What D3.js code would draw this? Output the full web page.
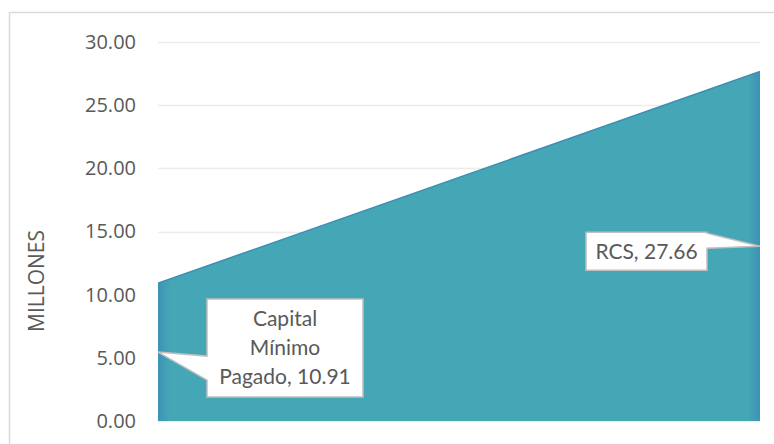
<!DOCTYPE html>
<meta charset="utf-8">
<style>
body { margin: 0; background: #fff; }
.axis text { font-family: "Open Sans", sans-serif; font-size: 20px; fill: #595959; }
.title { font-family: "Open Sans", sans-serif; font-size: 21px; fill: #595959; }
.callout text { font-family: Lato, sans-serif; font-size: 21px; fill: #595959; }
</style>
<svg width="774" height="444"></svg>
<script src="https://d3js.org/d3.v7.min.js"></script>
<script>
var categories = ["Capital Mínimo Pagado", "RCS"];
var values = [10.91, 27.66];
var yTicks = [0, 5, 10, 15, 20, 25, 30];

var svg = d3.select("svg");

// chart frame
svg.append("rect")
    .attr("x", 9.5).attr("y", 12.5)
    .attr("width", 775).attr("height", 440)
    .attr("fill", "none").attr("stroke", "#d9d9d9").attr("stroke-width", 1.5);

var x = d3.scalePoint().domain(categories).range([158, 760]);
var y = d3.scaleLinear().domain([0, 30]).range([421, 42]);

// gridlines
svg.append("g").selectAll("line")
    .data(yTicks)
  .enter().append("line")
    .attr("x1", 158).attr("x2", 760)
    .attr("y1", function(d) { return Math.round(y(d)) + 0.5; })
    .attr("y2", function(d) { return Math.round(y(d)) + 0.5; })
    .attr("stroke", "#ececec").attr("stroke-width", 1.5);

// y axis labels
svg.append("g")
    .attr("class", "axis")
    .attr("transform", "translate(158,0)")
    .call(d3.axisLeft(y).tickValues(yTicks).tickFormat(d3.format(".2f")).tickSize(0).tickPadding(22))
    .call(function(g) { g.select(".domain").remove(); });

svg.append("text")
    .attr("class", "title")
    .attr("transform", "translate(37,281) rotate(-90)")
    .attr("text-anchor", "middle")
    .attr("dy", "0.35em")
    .text("MILLONES");

// area fill
var defs = svg.append("defs");
var grad = defs.append("linearGradient").attr("id", "fillGrad");
grad.append("stop").attr("offset", "0%").attr("stop-color", "#3d92b6");
grad.append("stop").attr("offset", "2%").attr("stop-color", "#45a7b5");
grad.append("stop").attr("offset", "98%").attr("stop-color", "#45a7b5");
grad.append("stop").attr("offset", "100%").attr("stop-color", "#3d92b6");

var area = d3.area()
    .x(function(d, i) { return x(categories[i]); })
    .y0(y(0))
    .y1(function(d) { return y(d); });

svg.append("path")
    .datum(values)
    .attr("d", area)
    .attr("fill", "url(#fillGrad)");

svg.append("path")
    .datum(values)
    .attr("d", d3.line().x(function(d, i) { return x(categories[i]); }).y(function(d) { return y(d); }))
    .attr("fill", "none").attr("stroke", "#3c8fb3").attr("stroke-width", 1.5);

// callouts: box relative to anchor at half height of the area
var callouts = [
  {i: 0, lines: ["Capital", "Mínimo", "Pagado, " + values[0].toFixed(2)], dx: 49, dy: -53, w: 156, h: 98, side: "left", b0: 4, b1: 28},
  {i: 1, lines: ["RCS, " + values[1].toFixed(2)], dx: -174, dy: -14, w: 121, h: 38, side: "right", b0: -13, b1: 2}
];

callouts.forEach(function(c) {
  var ax = x(categories[c.i]), ay = y(values[c.i] / 2);
  var L = ax + c.dx, T = ay + c.dy, R = L + c.w, B = T + c.h;
  var p;
  if (c.side === "left") {
    p = "M" + L + "," + T + "H" + R + "V" + B + "H" + L + "V" + (ay + c.b1) +
        "L" + ax + "," + ay + "L" + L + "," + (ay + c.b0) + "Z";
  } else {
    p = "M" + L + "," + T + "H" + R + "V" + (ay + c.b0) + "L" + ax + "," + ay +
        "L" + R + "," + (ay + c.b1) + "V" + B + "H" + L + "Z";
  }
  var g = svg.append("g").attr("class", "callout");
  g.append("path").attr("d", p)
    .attr("fill", "#fff").attr("stroke", "#bfbfbf").attr("stroke-width", 1.5);
  var lh = 29;
  var top = (T + B) / 2 - (c.lines.length - 1) * lh / 2;
  g.selectAll("text").data(c.lines).enter().append("text")
    .attr("x", (L + R) / 2)
    .attr("y", function(d, k) { return top + k * lh; })
    .attr("dy", "0.35em")
    .attr("text-anchor", "middle")
    .text(function(d) { return d; });
});
</script>
